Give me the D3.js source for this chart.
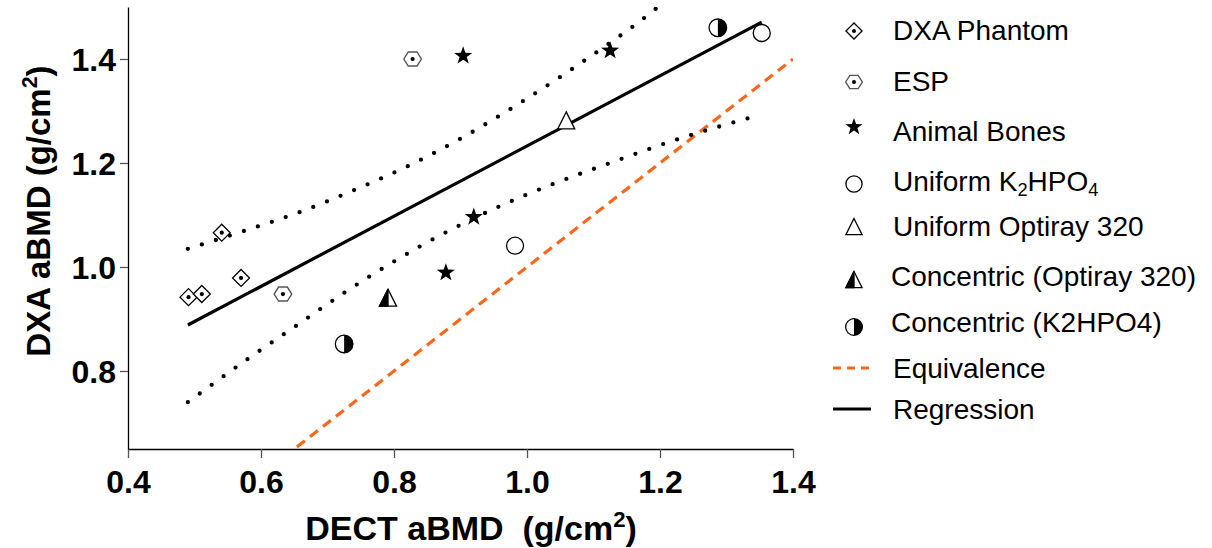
<!DOCTYPE html>
<html><head><meta charset="utf-8">
<script src="https://cdn.jsdelivr.net/npm/d3@7"></script>
<style>body{margin:0;background:#fff} svg{display:block}</style></head>
<body>
<svg id="c" width="1212" height="548"></svg>
<script>
// ---------- data ----------
const xTicks = [0.4, 0.6, 0.8, 1.0, 1.2, 1.4];
const yTicks = [0.8, 1.0, 1.2, 1.4];

const dxaPhantomX = [0.491, 0.511, 0.541, 0.570];
const dxaPhantomY = [0.942, 0.948, 1.066, 0.979];
const espX = [0.633, 0.828];
const espY = [0.948, 1.400];
const animalX = [0.904, 1.125, 0.920, 0.878];
const animalY = [1.408, 1.418, 1.098, 0.991];
const uniK2X = [0.982, 1.353];
const uniK2Y = [1.041, 1.450];
const uniOptX = [1.059];
const uniOptY = [1.281];
const concOptX = [0.791];
const concOptY = [0.940];
const concK2X = [0.725, 1.287];
const concK2Y = [0.852, 1.460];

const regX = [0.490, 1.353];
const regY = [0.8885, 1.471];
const equivX = [0.4, 1.4];
const equivY = [0.4, 1.4];

const upperBandX = [0.490, 0.576, 0.659, 0.742, 0.824, 0.903, 0.979, 1.054, 1.127, 1.164, 1.200];
const upperBandY = [1.035, 1.070, 1.106, 1.149, 1.196, 1.249, 1.307, 1.369, 1.433, 1.467, 1.503];
const lowerBandX = [0.490, 0.581, 0.654, 0.727, 0.803, 0.880, 0.961, 1.044, 1.127, 1.232, 1.338];
const lowerBandY = [0.740, 0.824, 0.888, 0.952, 1.013, 1.068, 1.118, 1.162, 1.201, 1.248, 1.288];

const legendLabels = ["DXA Phantom", "ESP", "Animal Bones", "Uniform K_2HPO_4", "Uniform Optiray 320",
  "Concentric (Optiray 320)", "Concentric (K2HPO4)", "Equivalence", "Regression"];
const legendTypes = ["diamond", "hexagon", "star", "circle", "triangle", "halfTriangle", "halfCircle", "dash", "line"];

// ---------- layout ----------
const svg = d3.select("#c");
const x = d3.scaleLinear().domain([0.4, 1.4]).range([128, 793]);
const y = d3.scaleLinear().domain([0.65, 1.5]).range([449, 7]);
const font = "'Liberation Sans', Arial, sans-serif";

svg.append("defs").append("clipPath").attr("id", "plotclip")
  .append("rect").attr("x", x(0.4)).attr("y", y(1.5)).attr("width", x(1.4) - x(0.4)).attr("height", y(0.65) - y(1.5));

// axes
const xAxis = d3.axisBottom(x).tickValues(xTicks).tickFormat(d3.format(".1f")).tickSizeInner(9).tickSizeOuter(0).tickPadding(12);
const yAxis = d3.axisLeft(y).tickValues(yTicks).tickFormat(d3.format(".1f")).tickSizeInner(8).tickSizeOuter(0).tickPadding(4);

const gx = svg.append("g").attr("transform", `translate(0,${y(0.65)})`).call(xAxis);
const gy = svg.append("g").attr("transform", `translate(${x(0.4)},0)`).call(yAxis);
[gx, gy].forEach(g => {
  g.select(".domain").attr("stroke", "#000").attr("stroke-width", 1.3);
  g.selectAll(".tick line").attr("stroke", "#555").attr("stroke-width", 1.3);
  g.selectAll(".tick text").attr("fill", "#000").attr("font-family", font)
    .attr("font-weight", "bold").attr("font-size", 32);
});
gy.selectAll(".tick text").attr("dy", "0.36em");

// rich text: ^x = superscript char, _x = subscript char
function addRichText(t, str, off, size) {
  let pending = 0, i = 0;
  while (i < str.length) {
    const ch = str[i];
    if (ch === "^" || ch === "_") {
      const d = ch === "^" ? -off : off * 0.55;
      t.append("tspan").attr("dy", pending + d).attr("font-size", size * 0.65).text(str[i + 1]);
      pending = -d;
      i += 2;
    } else {
      let j = i;
      while (j < str.length && str[j] !== "^" && str[j] !== "_") j++;
      t.append("tspan").attr("dy", pending).text(str.slice(i, j));
      pending = 0;
      i = j;
    }
  }
}
const xt = svg.append("text").attr("x", 471).attr("y", 540).attr("text-anchor", "middle")
  .attr("font-family", font).attr("font-weight", "bold").attr("font-size", 34).attr("fill", "#000")
  .attr("xml:space", "preserve");
addRichText(xt, "DECT aBMD  (g/cm^2)", 13, 34);
const yt = svg.append("text").attr("transform", "translate(50,211) rotate(-90)").attr("text-anchor", "middle")
  .attr("font-family", font).attr("font-weight", "bold").attr("font-size", 33).attr("fill", "#000");
addRichText(yt, "DXA aBMD (g/cm^2)", 13, 33);

// ---------- lines ----------
const plot = svg.append("g").attr("clip-path", "url(#plotclip)");
const line = d3.line().x(d => x(d[0])).y(d => y(d[1]));
const curve = d3.line().x(d => x(d[0])).y(d => y(d[1])).curve(d3.curveMonotoneX);

plot.append("path").datum(equivX.map((v, i) => [v, equivY[i]])).attr("d", line)
  .attr("fill", "none").attr("stroke", "#f7681b").attr("stroke-width", 3.2).attr("stroke-dasharray", "10,6.5");
plot.append("path").datum(regX.map((v, i) => [v, regY[i]])).attr("d", line)
  .attr("fill", "none").attr("stroke", "#000").attr("stroke-width", 3.2);
[[upperBandX, upperBandY], [lowerBandX, lowerBandY]].forEach(([bx, by]) => {
  plot.append("path").datum(bx.map((v, i) => [v, by[i]])).attr("d", curve)
    .attr("fill", "none").attr("stroke", "#000").attr("stroke-width", 4.3)
    .attr("stroke-linecap", "round").attr("stroke-dasharray", "0,14.7");
});

// ---------- symbols ----------
function starPath(R) {
  const r = R * 0.4, pts = [];
  for (let i = 0; i < 10; i++) {
    const a = -Math.PI / 2 + i * Math.PI / 5, rr = i % 2 ? r : R;
    pts.push([rr * Math.cos(a), rr * Math.sin(a)]);
  }
  return "M" + pts.map(p => p.join(",")).join("L") + "Z";
}
function drawSymbol(g, type, s) {
  if (type === "diamond") {
    const h = 8.5 * s;
    g.append("path").attr("d", `M0,${-h}L${h},0L0,${h}L${-h},0Z`).attr("fill", "#fff").attr("stroke", "#000").attr("stroke-width", 1.3);
    g.append("circle").attr("r", 2.1 * s).attr("fill", "#000");
  } else if (type === "hexagon") {
    const w = 8.8 * s, h = 7 * s;
    g.append("path").attr("d", `M${-w},0L${-w / 2},${-h}L${w / 2},${-h}L${w},0L${w / 2},${h}L${-w / 2},${h}Z`)
      .attr("fill", "#fff").attr("stroke", "#555").attr("stroke-width", 1.4);
    g.append("circle").attr("r", 2.1 * s).attr("fill", "#000");
  } else if (type === "star") {
    g.append("path").attr("d", starPath(9.5 * s)).attr("transform", `translate(0,${1 * s})`).attr("fill", "#000");
  } else if (type === "circle") {
    g.append("circle").attr("r", 8.5 * s).attr("fill", "#fff").attr("stroke", "#000").attr("stroke-width", 1.3);
  } else if (type === "triangle" || type === "halfTriangle") {
    const w = 8.5 * s, t = 9 * s, b = 8 * s;
    g.append("path").attr("d", `M0,${-t}L${w},${b}L${-w},${b}Z`).attr("fill", "#fff").attr("stroke", "#000").attr("stroke-width", 1.3);
    if (type === "halfTriangle")
      g.append("path").attr("d", `M0,${-t}L0,${b}L${-w},${b}Z`).attr("fill", "#000").attr("stroke", "#000").attr("stroke-width", 1.3);
  } else if (type === "halfCircle") {
    const r = 8.8 * s;
    g.append("circle").attr("r", r).attr("fill", "#fff").attr("stroke", "#000").attr("stroke-width", 1.3);
    g.append("path").attr("d", `M0,${-r}A${r},${r} 0 0 1 0,${r}Z`).attr("fill", "#000");
  }
}

const seriesList = [
  ["diamond", dxaPhantomX, dxaPhantomY], ["hexagon", espX, espY], ["star", animalX, animalY],
  ["circle", uniK2X, uniK2Y], ["triangle", uniOptX, uniOptY], ["halfTriangle", concOptX, concOptY],
  ["halfCircle", concK2X, concK2Y]
];
const marks = svg.append("g");
seriesList.forEach(([type, xs, ys]) => {
  xs.forEach((v, i) => {
    const g = marks.append("g").attr("transform", `translate(${x(v)},${y(ys[i])})`);
    drawSymbol(g, type, 1);
  });
});

// ---------- legend ----------
const legendRowY = [30, 81, 131, 181, 226, 276, 322, 368, 409];
const legendSymY = [31, 82, 126, 184, 227, 280, 327, 368, 409];
const legend = svg.append("g");
legendLabels.forEach((lab, i) => {
  const yy = legendRowY[i];
  const type = legendTypes[i];
  const g = legend.append("g").attr("transform", `translate(854,${legendSymY[i]})`);
  if (type === "dash") {
    g.append("line").attr("x1", -21).attr("x2", 18).attr("stroke", "#f7681b").attr("stroke-width", 3)
      .attr("stroke-dasharray", "8,6");
  } else if (type === "line") {
    g.append("line").attr("x1", -21).attr("x2", 17).attr("stroke", "#000").attr("stroke-width", 3);
  } else {
    drawSymbol(g, type, 0.95);
  }
  const tx = i === 5 || i === 6 ? 891 : 893;
  const t = legend.append("text").attr("x", tx).attr("y", yy + 10).attr("font-family", font)
    .attr("font-size", 28).attr("fill", "#000");
  addRichText(t, lab, 9, 28);
});
</script>
</body></html>
